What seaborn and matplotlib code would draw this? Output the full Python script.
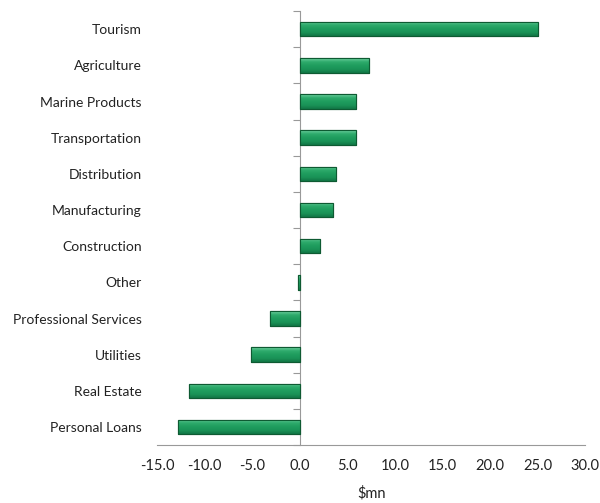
import matplotlib
matplotlib.use("Agg")
import matplotlib.pyplot as plt
import seaborn as sns
import numpy as np
import pandas as pd
from matplotlib.colors import LinearSegmentedColormap

categories = ["Tourism", "Agriculture", "Marine Products", "Transportation",
              "Distribution", "Manufacturing", "Construction", "Other",
              "Professional Services", "Utilities", "Real Estate", "Personal Loans"]
values = [25.1, 7.3, 5.9, 5.9, 3.8, 3.5, 2.1, -0.2, -3.1, -5.1, -11.7, -12.8]
xticks = [-15, -10, -5, 0, 5, 10, 15, 20, 25, 30]
xlabel = "$mn"

sns.set_style("white")
plt.rcParams['font.family'] = ['Lato', 'DejaVu Sans']

df = pd.DataFrame({"cat": categories, "val": values})

fig = plt.figure(figsize=(6.0, 5.03), dpi=100)
ax = fig.add_axes([0.262, 0.115, 0.713, 0.863])
sns.barplot(data=df, x="val", y="cat", orient="h", ax=ax, width=0.4,
            color="#1e9c5c", edgecolor="#0e5a32", linewidth=0.8)

cmap = LinearSegmentedColormap.from_list("g", ["#6fd0a0", "#2eab6c", "#1f9d5e", "#1a9357", "#127646"])
grad = np.linspace(0, 1, 64).reshape(-1, 1)
for p in ax.patches:
    x0, y0 = p.get_x(), p.get_y()
    w, h = p.get_width(), p.get_height()
    im = ax.imshow(grad, cmap=cmap, aspect="auto",
                   extent=[x0, x0 + w, y0 + h, y0], zorder=p.get_zorder() + 0.1)
    im.set_clip_path(p)
    ax.add_patch(plt.Rectangle((x0, y0), w, h, fill=False, edgecolor="#0e5a32",
                               linewidth=0.8, zorder=p.get_zorder() + 0.2))

ax.set_xlim(-15, 30)
ax.set_ylim(len(categories) - 0.5, -0.5)
ax.set_xticks(xticks)
ax.set_xticklabels([f"{t:.1f}" for t in xticks], fontsize=10.5, color="#222222")
ax.set_xlabel(xlabel, fontsize=10.5, color="#222222", labelpad=9)
ax.set_ylabel("")
ax.tick_params(axis="y", length=0, pad=11, labelsize=10, labelcolor="#222222")
ax.tick_params(axis="x", direction="in", length=5, color="#999999", width=0.8, pad=10)
for s in ["top", "right", "left"]:
    ax.spines[s].set_visible(False)
ax.spines["bottom"].set_color("#999999")
ax.spines["bottom"].set_linewidth(0.8)

sec = ax.secondary_yaxis(1/3)
sec.set_yticks(np.arange(-0.5, len(categories), 1.0))
sec.set_yticklabels([])
sec.tick_params(axis="y", direction="out", length=5, color="#999999", width=0.8)
sec.spines["left"].set_color("#999999")
sec.spines["left"].set_linewidth(0.8)

fig.savefig("out.png", dpi=100)
